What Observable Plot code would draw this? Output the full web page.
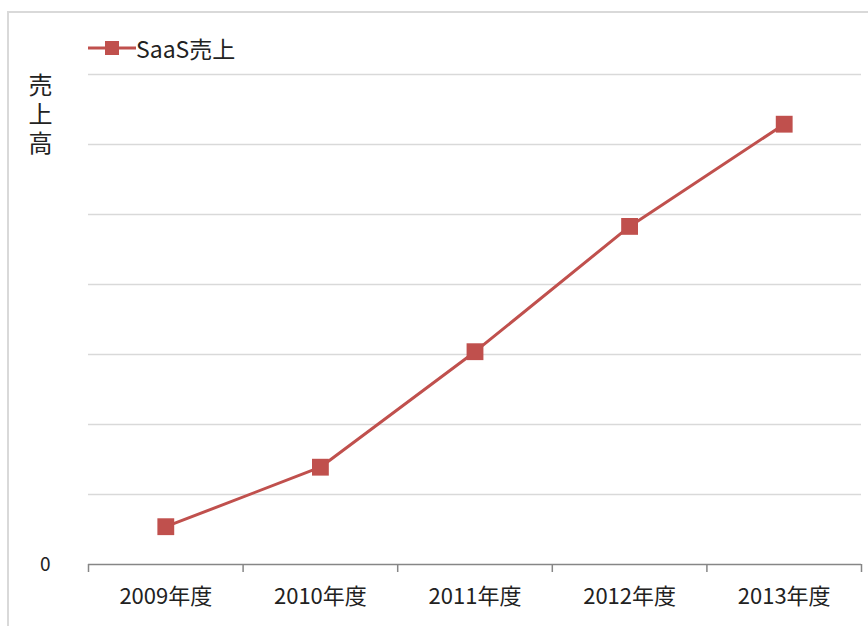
<!DOCTYPE html>
<html>
<head>
<meta charset="utf-8">
<script src="https://cdn.jsdelivr.net/npm/d3@7"></script>
<script src="https://cdn.jsdelivr.net/npm/@observablehq/plot@0.6"></script>
<style>
  body { margin: 0; background: #fff; font-family: "Noto Sans CJK JP", "Noto Sans", sans-serif; }
  #wrap { position: relative; width: 868px; height: 626px; overflow: hidden; }
  #frame { position: absolute; left: 7px; top: 11px; width: 880px; height: 640px; border: 2px solid #d9d9d9; box-sizing: border-box; }
  #legend { position: absolute; left: 88px; top: 33px; display: flex; align-items: center; font-size: 23px; color: #222; line-height: 30px; }
  #ylabel { position: absolute; left: 28px; top: 73px; writing-mode: vertical-rl; text-orientation: upright; font-size: 24px; color: #222; letter-spacing: 5px; line-height: 24px; }
  #chart { position: absolute; left: 0; top: 0; }
</style>
</head>
<body>
<div id="wrap">
  <div id="frame"></div>
  <div id="chart"></div>
  <div id="legend"><svg width="48" height="20"><line x1="0" y1="10" x2="48" y2="10" stroke="#c0504d" stroke-width="3"/><rect x="17" y="3" width="14" height="14" fill="#c0504d"/></svg><span style="margin-left:0px">SaaS売上</span></div>
  <div id="ylabel">売上高</div>
</div>
<script>
const years = ["2009年度", "2010年度", "2011年度", "2012年度", "2013年度"];
const sales = [0.54, 1.39, 3.04, 4.83, 6.29];
const gridValues = [1, 2, 3, 4, 5, 6, 7];
const seriesName = "SaaS売上";

const data = years.map((y, i) => ({i, year: y, value: sales[i]}));
const boundaries = years.map((_, i) => i - 0.5).concat([years.length - 0.5]);
const color = "#c0504d";

const chart = Plot.plot({
  width: 868,
  height: 626,
  marginTop: 74,
  marginBottom: 62,
  marginLeft: 88,
  marginRight: 7,
  style: {fontFamily: "'Noto Sans CJK JP', 'Noto Sans', sans-serif", background: "transparent"},
  x: {type: "linear", domain: [-0.5, years.length - 0.5]},
  y: {domain: [0, 7]},
  marks: [
    Plot.ruleY(gridValues, {stroke: "#d9d9d9", strokeWidth: 1.5}),
    Plot.ruleY([0], {stroke: "#868686", strokeWidth: 1.5}),
    Plot.axisX(boundaries, {tickSize: 8, tickFormat: () => "", stroke: "#868686", strokeWidth: 1.5, label: null}),
    Plot.axisX(d3.range(years.length), {tickSize: 0, tickPadding: 24, tickFormat: i => years[i], fontSize: 22, fill: "#222", label: null}),
    Plot.axisY([0], {tickSize: 0, tickPadding: 38, tickFormat: d => String(d), fontSize: 19, fill: "#222", label: null}),
    Plot.line(data, {x: "i", y: "value", stroke: color, strokeWidth: 3}),
    Plot.dot(data, {x: "i", y: "value", symbol: "square", r: 9.5, fill: color, stroke: null})
  ]
});
document.getElementById("chart").appendChild(chart);
</script>
</body>
</html>
